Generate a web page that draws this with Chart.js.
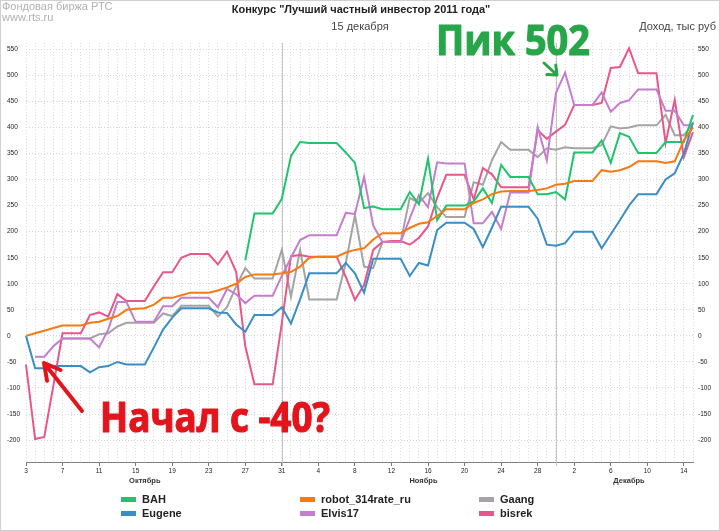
<!DOCTYPE html>
<html>
<head>
<meta charset="utf-8">
<script src="https://cdn.jsdelivr.net/npm/chart.js@4/dist/chart.umd.min.js"></script>
<style>
  html, body { margin: 0; padding: 0; background: #fff; }
  canvas { display: block; }
</style>
</head>
<body>
<canvas id="chart" width="720" height="531"></canvas>
<script>
// Дни по месяцам (ось X)
const octDays = [3,4,5,6,7,8,9,10,11,12,13,14,15,16,17,18,19,20,21,22,23,24,25,26,27,28,29,30,31];
const novDays = [1,2,3,4,5,6,7,8,9,10,11,12,13,14,15,16,17,18,19,20,21,22,23,24,25,26,27,28,29,30];
const decDays = [1,2,3,4,5,6,7,8,9,10,11,12,13,14,15];
const monthNames = ["Октябрь", "Ноябрь", "Декабрь"];
const yTicks = [-200,-150,-100,-50,0,50,100,150,200,250,300,350,400,450,500,550];

// Доход участников, тыс руб
const bah = [null,null,null,null,null,null,null,null,null,null,
  null,null,null,null,null,null,null,null,null,null,
  null,null,null,null,145,235,235,235,263,345,
  372,370,370,370,370,352,332,245,248,243,
  243,243,276,253,340,222,250,250,250,258,
  283,255,328,305,305,305,272,272,276,262,
  352,352,352,375,332,389,382,351,351,351,
  372,372,372,424];
const robot = [0,5,10,15,20,20,20,25,27,33,
  38,50,52,53,60,73,73,78,83,83,
  83,87,93,100,113,118,118,118,120,123,
  133,150,152,152,152,160,165,168,185,197,
  197,197,207,215,218,230,243,243,243,255,
  262,272,277,278,278,278,280,283,290,292,
  297,297,297,318,315,318,324,335,335,335,
  332,335,375,400];
const gaang = [null,null,null,null,-5,-5,-5,-5,3,5,
  18,25,25,25,25,43,38,58,58,58,
  58,37,55,95,130,110,110,110,165,75,
  165,70,70,70,70,140,232,133,130,180,
  180,180,265,255,274,247,228,228,228,295,
  290,337,372,357,357,357,343,360,357,362,
  360,360,360,366,402,398,400,404,404,404,
  424,385,385,408];
const eugene = [0,-62,-62,-58,-58,-58,-58,-70,-60,-58,
  -50,-55,-55,-55,-22,12,35,53,53,53,
  53,45,44,22,8,40,40,40,55,24,
  70,120,120,120,120,140,120,83,148,148,
  148,148,115,140,135,203,217,217,217,205,
  170,208,248,248,248,248,225,175,173,178,
  200,200,200,168,195,222,250,272,272,272,
  300,312,350,410];
const elvis = [null,-40,-40,-20,-5,-5,-5,-5,-22,12,
  65,65,27,27,27,57,57,73,73,73,
  73,55,90,80,63,77,77,77,115,150,
  184,193,193,193,193,236,234,305,212,180,
  180,180,225,270,247,333,331,331,331,216,
  216,238,205,275,275,275,401,337,466,505,
  443,443,443,467,430,447,452,473,473,473,
  432,432,404,404];
const bisrek = [-55,-198,-194,-95,5,5,5,40,45,37,
  80,67,67,67,95,122,122,150,157,157,
  157,137,162,123,-20,-93,-93,-93,25,153,
  155,152,152,152,152,113,69,98,165,180,
  182,182,175,188,210,265,309,309,309,262,
  322,310,285,285,285,285,395,378,392,405,
  443,443,443,447,514,516,552,504,504,504,
  370,453,343,391];

const dayLabels = [...octDays, ...novDays, ...decDays].map(String);
const monthDays = [octDays, novDays, decDays];

const datasets = [
  { label: "BAH", data: bah, borderColor: "#1fc46c", order: 1 },
  { label: "robot_314rate_ru", data: robot, borderColor: "#f47a12", order: 0 },
  { label: "Gaang", data: gaang, borderColor: "#a4a4a4", order: 5 },
  { label: "Eugene", data: eugene, borderColor: "#3a8ec6", order: 2 },
  { label: "Elvis17", data: elvis, borderColor: "#c57dce", order: 3 },
  { label: "bisrek", data: bisrek, borderColor: "#e8578a", order: 4 },
];

function fitText(ctx, text, x, base, width, font, color) {
  ctx.save();
  ctx.font = font;
  ctx.fillStyle = color;
  ctx.strokeStyle = color;
  ctx.lineWidth = 1.2;
  ctx.lineJoin = "round";
  ctx.textAlign = "left";
  ctx.textBaseline = "alphabetic";
  const w = ctx.measureText(text).width;
  ctx.translate(x, base);
  ctx.scale(width / w, 1);
  ctx.fillText(text, 0, 0);
  ctx.strokeText(text, 0, 0);
  ctx.restore();
}

function arrow(ctx, x1, y1, x2, y2, color, lw, head, spread) {
  const ang = Math.atan2(y2 - y1, x2 - x1);
  ctx.save();
  ctx.strokeStyle = color;
  ctx.lineWidth = lw;
  ctx.lineCap = "round";
  ctx.lineJoin = "round";
  ctx.beginPath();
  ctx.moveTo(x1, y1);
  ctx.lineTo(x2, y2);
  ctx.moveTo(x2 - head * Math.cos(ang - spread), y2 - head * Math.sin(ang - spread));
  ctx.lineTo(x2, y2);
  ctx.lineTo(x2 - head * Math.cos(ang + spread), y2 - head * Math.sin(ang + spread));
  ctx.stroke();
  ctx.restore();
}

const decor = {
  id: "decor",
  beforeDraw(chart) {
    const ctx = chart.ctx;
    ctx.save();
    ctx.fillStyle = "#fff";
    ctx.fillRect(0, 0, chart.width, chart.height);
    ctx.strokeStyle = "#d0d0d0";
    ctx.strokeRect(0.5, 0.5, chart.width - 1, chart.height - 1);
    ctx.restore();
  },
  beforeDatasetsDraw(chart) {
    const { ctx, chartArea: a } = chart;
    const x = chart.scales.x;
    ctx.save();
    ctx.strokeStyle = "#c4c4c4";
    ctx.lineWidth = 1;
    [octDays.length - 1, octDays.length + novDays.length - 1].forEach((i) => {
      const px = Math.round(x.getPixelForValue(i)) + 0.5;
      ctx.beginPath();
      ctx.moveTo(px, a.top);
      ctx.lineTo(px, a.bottom + 4);
      ctx.stroke();
    });
    ctx.restore();
  },
  afterDraw(chart) {
    const ctx = chart.ctx;
    const x = chart.scales.x;
    ctx.save();
    ctx.textBaseline = "alphabetic";

    // заголовки
    ctx.textAlign = "center";
    ctx.fillStyle = "#222";
    ctx.font = 'bold 11px "Liberation Sans"';
    ctx.fillText('Конкурс "Лучший частный инвестор 2011 года"', 361, 13);
    ctx.font = '11px "Liberation Sans"';
    ctx.fillStyle = "#444";
    ctx.fillText("15 декабря", 360, 30);
    ctx.textAlign = "left";
    ctx.fillStyle = "#b0b0b0";
    ctx.fillText("Фондовая биржа РТС", 2, 10);
    ctx.fillText("www.rts.ru", 2, 21);
    ctx.textAlign = "right";
    ctx.fillStyle = "#444";
    ctx.fillText("Доход, тыс руб", 716, 30);

    // месяцы под осью
    ctx.textAlign = "center";
    ctx.fillStyle = "#333";
    ctx.font = 'bold 7.5px "Liberation Sans"';
    let start = 0;
    monthDays.forEach((days, m) => {
      const from = start - (days[0] - 1);
      const to = start + days.length - 1;
      const cx = (x.getPixelForValue(from) + x.getPixelForValue(to)) / 2;
      ctx.fillText(monthNames[m], cx, 483);
      start += days.length;
    });

    // легенда
    const cols = [121, 300, 479];
    const rows = [499, 513];
    ctx.textAlign = "left";
    ctx.textBaseline = "middle";
    ctx.font = 'bold 11px "Liberation Sans"';
    datasets.forEach((ds, k) => {
      const cx = cols[k % 3];
      const cy = rows[Math.floor(k / 3)];
      ctx.fillStyle = ds.borderColor;
      ctx.fillRect(cx, cy - 2, 15, 5);
      ctx.fillStyle = "#222";
      ctx.fillText(ds.label, cx + 21, cy + 0.5);
    });
    ctx.restore();

    // надписи
    fitText(ctx, "Пик 502", 436, 55, 154, 'bold 42px "Open Sans"', "#27a649");
    arrow(ctx, 544, 63, 557, 75, "#27a649", 3, 10, 0.7);
    fitText(ctx, "Начал с -40?", 100, 432, 230, 'bold 41px "Open Sans"', "#e3141c");
    arrow(ctx, 82, 411, 44, 363, "#e3141c", 4, 18, 0.5);
  },
};

const yScale = (pos) => ({
  position: pos,
  min: -242,
  max: 562,
  afterBuildTicks: (s) => { s.ticks = yTicks.map((v) => ({ value: v })); },
  afterFit: (s) => { s.width = pos === "left" ? 19 : 27; },
  grid: {
    display: true,
    drawOnChartArea: pos === "left",
    drawTicks: false,
    color: "#d6d6d6",
  },
  border: { display: false, dash: [1, 2] },
  ticks: {
    crossAlign: pos === "left" ? "far" : "near",
    padding: 5,
    color: "#222",
    font: { size: 6.5, family: "Liberation Sans" },
  },
});

new Chart(document.getElementById("chart").getContext("2d"), {
  type: "line",
  data: {
    labels: dayLabels,
    datasets: datasets.map((d) => ({
      ...d,
      borderWidth: 2,
      pointRadius: 0,
      tension: 0,
      fill: false,
      spanGaps: false,
    })),
  },
  options: {
    responsive: false,
    animation: false,
    devicePixelRatio: 1,
    layout: { padding: { top: 43, left: 7, right: 0, bottom: 0 } },
    plugins: {
      legend: { display: false },
      title: { display: false },
      tooltip: { enabled: false },
    },
    scales: {
      x: {
        type: "category",
        offset: false,
        afterFit: (s) => { s.height = 69; },
        grid: {
          color: "#dcdcdc",
          tickLength: 4,
          tickColor: (c) => (c.index % 4 === 0 ? "#777" : "rgba(0,0,0,0)"),
        },
        border: { display: true, color: "#808080", dash: [1, 2] },
        ticks: {
          autoSkip: false,
          maxRotation: 0,
          padding: 1,
          color: "#222",
          font: { size: 6.5, family: "Liberation Sans" },
          callback: (v, i) => (i % 4 === 0 ? dayLabels[i] : ""),
        },
      },
      y: yScale("left"),
      y2: yScale("right"),
    },
  },
  plugins: [decor],
});
</script>
</body>
</html>
